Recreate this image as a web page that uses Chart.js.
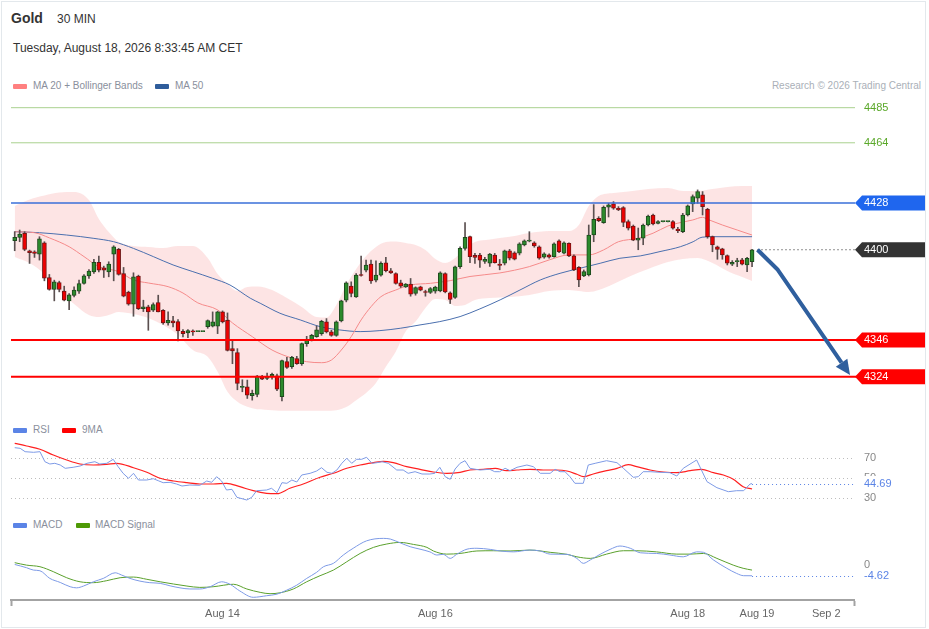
<!DOCTYPE html>
<html>
<head>
<meta charset="utf-8">
<script src="https://cdn.jsdelivr.net/npm/chart.js@4.4.1/dist/chart.umd.min.js"></script>
<style>
  html, body { margin: 0; padding: 0; background: #fff; }
  body { width: 929px; height: 629px; position: relative; overflow: hidden;
         font-family: "Liberation Sans", Arial, sans-serif; }
  #frame { position: absolute; left: 1px; top: 1px; width: 923px; height: 625px; border: 1px solid #e3e8ec; }
  .t { position: absolute; white-space: nowrap; line-height: 14px; }
  .sw { position: absolute; width: 14px; height: 5px; border-radius: 1px; }
  canvas { position: absolute; left: 0; }
</style>
</head>
<body>
<div id="frame"></div>

<!-- header -->
<div class="t" style="left:11px;top:11px;font-size:14px;font-weight:bold;color:#333">Gold</div>
<div class="t" style="left:57px;top:12px;font-size:12px;color:#333">30 MIN</div>
<div class="t" style="left:13px;top:41px;font-size:12px;color:#333">Tuesday, August 18, 2026 8:33:45 AM CET</div>

<!-- main legend -->
<div class="sw" style="left:13px;top:84px;background:#ff8080"></div>
<div class="t" style="left:33px;top:79px;font-size:10px;color:#8a8f9c">MA 20 + Bollinger Bands</div>
<div class="sw" style="left:155px;top:84px;background:#2f5d9b"></div>
<div class="t" style="left:175px;top:79px;font-size:10px;color:#8a8f9c">MA 50</div>
<div class="t" style="right:8px;top:79px;font-size:10px;color:#aab0b8">Research © 2026 Trading Central</div>

<!-- RSI legend -->
<div class="sw" style="left:13px;top:428px;background:#5b84e6"></div>
<div class="t" style="left:33px;top:423px;font-size:10px;color:#8a8f9c">RSI</div>
<div class="sw" style="left:62px;top:428px;background:#ff0000"></div>
<div class="t" style="left:82px;top:423px;font-size:10px;color:#8a8f9c">9MA</div>

<!-- MACD legend -->
<div class="sw" style="left:13px;top:523px;background:#5b84e6"></div>
<div class="t" style="left:33px;top:518px;font-size:10px;color:#8a8f9c">MACD</div>
<div class="sw" style="left:76px;top:523px;background:#4e9a06"></div>
<div class="t" style="left:95px;top:518px;font-size:10px;color:#8a8f9c">MACD Signal</div>

<canvas id="main" width="929" height="315" style="top:97px"></canvas>
<canvas id="rsi" width="929" height="74" style="top:438px"></canvas>
<canvas id="macd" width="929" height="94" style="top:535px"></canvas>

<script>
// ---------- data ----------
// 30 min candles: [open, high, low, close]
const ohlc = [
  [4405.4,4410.8,4399.4,4407.4],[4407.4,4411.8,4404.8,4409.4],[4409.8,4410.8,4399.4,4400.2],[4399.4,4399.8,4391.8,4398.2],
  [4398.8,4399.4,4395.4,4397.8],[4397.4,4407.8,4393.8,4406.6],[4404.2,4404.8,4381.4,4383.0],[4383.4,4385.2,4375.8,4376.2],
  [4376.2,4381.8,4369.4,4380.8],[4380.4,4381.2,4374.8,4376.2],[4375.2,4378.2,4369.4,4369.8],[4369.4,4373.8,4364.2,4373.0],
  [4372.6,4377.8,4371.8,4375.8],[4375.2,4381.8,4373.8,4379.8],[4379.8,4385.2,4379.4,4384.4],[4384.4,4388.2,4382.8,4387.2],
  [4386.8,4394.2,4385.8,4392.4],[4392.4,4396.2,4386.8,4387.8],[4389.2,4390.2,4383.4,4387.8],[4386.8,4392.8,4383.8,4391.4],
  [4397.4,4402.4,4381.4,4401.8],[4400.2,4400.8,4384.8,4385.2],[4385.8,4389.4,4371.8,4372.2],[4374.6,4375.2,4366.8,4367.4],
  [4367.4,4386.2,4360.2,4383.8],[4384.2,4384.8,4364.2,4364.8],[4364.8,4369.8,4363.0,4365.8],[4365.8,4366.8,4351.8,4362.8],
  [4363.8,4368.2,4363.0,4367.2],[4368.4,4372.8,4362.8,4362.8],[4363.8,4364.2,4355.4,4356.2],[4356.2,4362.8,4354.8,4357.8],
  [4357.4,4360.2,4353.8,4356.2],[4357.0,4358.2,4345.4,4351.4],[4351.2,4352.2,4347.8,4349.8],[4350.2,4352.2,4347.4,4351.6],
  [4351.4,4352.0,4348.8,4350.8],[4351.0,4351.0,4351.0,4351.0],[4351.0,4351.0,4351.0,4351.0],[4354.0,4358.0,4353.0,4357.6],
  [4354.2,4362.8,4353.8,4356.8],[4354.2,4363.2,4349.8,4362.8],[4362.8,4363.4,4356.2,4356.8],[4357.8,4362.2,4339.4,4339.8],
  [4340.8,4346.2,4331.8,4339.4],[4338.4,4340.8,4316.2,4320.0],[4317.6,4322.2,4315.0,4318.2],[4318.0,4322.0,4311.0,4313.0],
  [4312.6,4316.0,4310.0,4314.0],[4313.4,4324.8,4312.0,4324.4],[4324.2,4324.8,4322.2,4322.6],[4323.0,4326.2,4322.2,4324.0],
  [4324.2,4326.2,4322.6,4325.4],[4324.6,4325.6,4315.6,4316.6],[4312.0,4334.0,4309.6,4333.6],[4333.0,4335.6,4329.0,4329.6],
  [4330.0,4336.2,4329.0,4335.6],[4334.8,4336.2,4331.4,4331.8],[4331.8,4344.2,4330.8,4343.8],[4343.8,4348.2,4342.2,4345.8],
  [4345.8,4349.4,4345.4,4348.8],[4348.0,4354.4,4347.6,4352.0],[4349.8,4357.8,4348.8,4357.2],[4356.8,4358.8,4350.2,4350.8],
  [4350.8,4351.8,4348.2,4348.8],[4348.8,4357.4,4348.2,4356.8],[4357.4,4369.8,4356.8,4369.4],[4369.8,4380.8,4368.8,4380.2],
  [4378.2,4380.8,4371.8,4373.8],[4371.8,4385.8,4371.4,4384.8],[4384.8,4396.2,4384.2,4384.6],[4387.8,4393.8,4386.8,4390.8],
  [4391.4,4393.8,4379.8,4381.4],[4381.8,4393.4,4380.8,4384.8],[4384.8,4392.8,4384.2,4391.8],[4392.2,4395.4,4386.8,4387.4],
  [4387.4,4388.8,4385.8,4386.2],[4385.8,4386.2,4379.4,4379.8],[4380.2,4381.8,4377.4,4378.2],[4377.8,4379.8,4377.4,4379.4],
  [4379.4,4382.8,4372.2,4373.4],[4373.8,4377.8,4372.8,4377.4],[4377.8,4378.2,4375.4,4375.8],[4374.8,4375.8,4372.2,4374.4],
  [4374.4,4377.4,4373.8,4376.8],[4375.2,4378.2,4374.0,4377.6],[4375.4,4386.8,4374.8,4386.2],[4385.8,4386.2,4374.2,4374.8],
  [4374.2,4374.8,4367.8,4370.2],[4371.4,4390.2,4370.8,4389.8],[4389.8,4401.8,4388.8,4400.8],[4400.8,4416.2,4399.8,4407.4],
  [4407.8,4408.2,4392.2,4395.8],[4396.6,4397.8,4391.8,4395.4],[4396.8,4397.8,4389.4,4393.8],[4393.0,4395.4,4391.8,4394.2],
  [4392.0,4397.8,4390.0,4397.4],[4396.8,4397.8,4392.0,4392.2],[4391.4,4394.2,4388.0,4390.6],[4391.9,4399.8,4390.9,4399.4],
  [4399.4,4400.2,4393.9,4394.9],[4398.2,4398.8,4393.9,4394.3],[4397.9,4404.2,4396.9,4403.5],[4402.9,4405.9,4402.3,4405.3],
  [4405.2,4410.8,4404.7,4405.5],[4404.2,4404.8,4401.5,4402.3],[4401.8,4402.3,4394.3,4394.9],[4395.5,4398.2,4394.9,4397.5],
  [4396.9,4397.5,4394.9,4395.5],[4395.9,4404.2,4395.5,4403.5],[4405.4,4405.9,4398.2,4398.8],[4397.9,4404.8,4397.5,4404.2],
  [4403.9,4404.2,4395.9,4396.3],[4396.3,4396.9,4387.5,4387.9],[4389.5,4389.9,4377.9,4381.9],[4384.3,4387.9,4383.9,4386.9],
  [4384.9,4414.8,4384.3,4408.8],[4408.8,4427.0,4404.8,4418.2],[4418.8,4419.8,4416.8,4417.4],[4416.2,4426.2,4415.8,4425.4],
  [4425.4,4427.8,4419.6,4426.8],[4427.4,4428.8,4424.2,4424.8],[4424.8,4425.8,4423.4,4423.8],[4425.2,4425.8,4413.8,4416.4],
  [4416.8,4417.8,4411.8,4412.9],[4414.2,4414.8,4405.4,4405.8],[4405.8,4413.0,4400.0,4406.9],[4406.9,4415.4,4403.0,4414.8],
  [4414.8,4420.8,4414.2,4420.2],[4420.8,4421.4,4414.8,4415.4],[4415.8,4417.4,4415.4,4416.8],[4416.8,4417.0,4416.6,4416.8],
  [4416.8,4417.0,4416.6,4416.8],[4416.8,4417.4,4412.3,4412.9],[4412.4,4413.4,4410.2,4411.4],[4410.8,4421.8,4410.2,4420.8],
  [4420.8,4426.8,4420.2,4426.2],[4427.4,4432.8,4422.8,4431.8],[4430.8,4435.8,4427.8,4434.8],[4432.8,4434.8,4420.8,4425.8],
  [4424.2,4424.8,4406.9,4407.8],[4407.8,4408.2,4398.8,4402.9],[4401.8,4402.2,4394.3,4400.2],[4400.5,4400.9,4394.3,4396.9],
  [4396.5,4396.9,4390.9,4391.9],[4391.3,4393.5,4390.5,4392.5],[4392.9,4394.9,4389.9,4393.5],[4393.9,4394.9,4390.9,4391.3],
  [4390.9,4395.5,4386.9,4394.9],[4392.9,4400.2,4389.9,4399.9]
];

// [candle index, value]
const ma20 = [
  [0,4410.8],[4,4410.2],[7,4407.1],[11,4401.8],[14,4395.9],[17,4389.9],[21,4386.9],[24,4381.9],[27,4380.1],[31,4377.9],
  [34,4374.1],[37,4368.2],[41,4364.0],[44,4356.2],[48,4348.0],[52,4340.0],[56,4335.2],[59,4333.0],[62,4332.4],[64,4334.0],
  [66,4340.0],[68,4348.0],[70,4358.0],[72,4365.9],[74,4371.9],[77,4375.9],[80,4378.9],[84,4379.9],[88,4381.5],[92,4384.0],
  [98,4386.1],[104,4389.9],[108,4393.9],[112,4396.9],[116,4396.9],[119,4399.9],[122,4404.8],[126,4406.9],[129,4409.9],
  [132,4414.2],[134,4415.9],[137,4417.8],[139,4419.4],[140,4418.2],[143,4414.8],[146,4411.8],[149,4408.8]
];
const ma50 = [
  [0,4410.8],[5,4410.2],[10.5,4408.8],[16,4406.8],[20,4404.8],[24,4400.8],[28,4395.9],[32,4390.9],[36,4386.9],[40,4382.9],
  [43.5,4378.9],[47.6,4371.0],[49.6,4368.0],[53.6,4362.0],[57.7,4358.0],[61.7,4354.0],[65.7,4352.0],[69.8,4351.0],
  [73.8,4351.6],[77.9,4353.0],[81.9,4355.0],[85.9,4357.0],[90,4360.0],[94,4364.6],[98.1,4370.0],[102.1,4375.9],
  [106.2,4381.9],[110.2,4385.9],[114.2,4388.9],[118.3,4391.9],[122.3,4394.9],[126.4,4396.3],[130.4,4398.9],
  [134.5,4401.8],[137.1,4404.8],[138.9,4407.5],[141.1,4407.8],[149,4407.8]
];
const bandIdx = [0,3,6,9,12,15,17,19,21,24,27,30,33,36,39,41,43,45,47,49,52,55,58,61,63,65,67,69,71,73,
  75,77,79,81,83,85,87,89,91,93,96,100,104,108,112,114,116,118,121,124,128,132,135,138,141,144,147,149];
const bandUpper = [4426.2,4430.1,4432.5,4434.3,4434.6,4429.8,4418.4,4410.6,4404.7,4402.3,4401.7,4401.1,
  4402.3,4402.3,4395.1,4385.5,4379.5,4375.3,4377.7,4378.0,4375.9,4371.1,4365.8,4359.8,4359.5,4367.0,4378.9,
  4388.5,4396.3,4401.7,4404.7,4405.0,4404.1,4402.9,4399.9,4394.5,4392.1,4395.1,4400.5,4404.7,4406.2,4407.7,
  4410.0,4411.2,4411.2,4414.8,4426.2,4432.2,4434.0,4434.9,4436.4,4437.0,4435.2,4435.2,4436.4,4437.6,4438.2,4438.2];
const bandLower = [4395.7,4392.1,4385.5,4375.3,4367.6,4361.0,4359.8,4361.0,4362.8,4361.6,4359.2,4355.0,
  4349.0,4340.0,4336.0,4327.0,4315.0,4309.0,4306.0,4304.5,4304.0,4303.6,4303.6,4303.6,4303.6,4304.0,4305.9,
  4310.0,4314.3,4320.3,4330.0,4339.0,4351.0,4357.0,4365.2,4370.5,4369.9,4366.4,4367.0,4369.9,4371.1,4371.7,
  4372.9,4375.3,4375.9,4375.3,4374.7,4375.9,4379.5,4383.7,4388.5,4392.7,4394.5,4395.1,4392.1,4387.3,4383.7,4381.3];

// key levels on the right
const levelValues = [4485, 4464, 4428, 4400, 4346, 4324];
// forecast arrow path [candle index], [price]
const arrowIdx = [150.1, 154.2, 168.8];
const arrowVal = [4400, 4388, 4325];

const rsi = [
  [0,80.6],[1.1,80],[2.1,76.6],[3.8,76],[5.1,76.6],[6.1,66.6],[7.1,64.3],[8.1,65],[9.2,63.3],[10.2,60],[11.8,61],
  [13.2,62.3],[14.6,65],[16.2,66.6],[17.2,64.3],[18.6,65],[19.9,69],[20.9,61.6],[21.9,55],[23,50],[24,55],[25,48.3],
  [26.7,48.3],[28,49.6],[29,47.6],[30,45.6],[31.4,46],[32.7,44.3],[33.8,42.3],[35.4,43.3],[37.4,43],[38.8,47.3],
  [39.8,46],[40.8,51.6],[41.8,47.3],[42.8,38.3],[43.9,39],[44.9,31],[46.9,28.3],[47.9,31],[48.9,37.6],[50.9,38.3],
  [51.9,40],[53,35.6],[54,45.6],[55,45],[56,48.3],[57,46.3],[58,53.3],[59.7,55],[61,57.3],[62,60.6],[63.1,56],
  [64.1,55],[65.1,58.3],[66.1,65],[67.1,70],[68.1,65],[69.1,69],[70.1,69],[71.1,71],[72.2,65],[73.2,65.6],[74.2,66.6],
  [75.5,65],[77.2,58.3],[78.5,58.3],[79.5,55],[80.9,56.6],[82.3,54.3],[83.9,54.3],[84.9,55],[85.9,61],[87,51.6],
  [88,49],[89,59.3],[90,65],[91,67.6],[92,60],[94,58.3],[96,59],[97,56.6],[98,56.6],[99.1,60],[100.1,57.6],
  [101.5,61],[103.5,63.3],[104.8,61.6],[106.2,55],[108.2,55],[109.2,59],[110.2,56.6],[111.2,56.6],[112.2,51.6],
  [113.2,45],[114.9,45],[115.9,63.3],[117.3,65],[119.6,67.6],[121.7,65.6],[123,60],[125,51],[126,51.6],[127,56.6],
  [128.4,56.6],[130.4,56],[132.4,55.6],[133.8,52.3],[135.1,60],[137.8,68.3],[139.9,46.6],[141.9,40.6],[144.2,36.6],
  [145.9,37.6],[147.3,37.6],[148.6,44.3],[149,44.69]
];
const rsiMa = [
  [0,85],[2.4,82.3],[5.1,79],[7.8,73.3],[10.5,68.3],[13.2,64.3],[15.9,63.3],[18.6,64],[20.6,65],[24,60.6],[26.7,56],
  [29.4,50],[32.1,47.3],[34.8,45.6],[37.4,44.3],[40.1,44.3],[42.8,45],[45.5,41.6],[48.2,37.6],[50.9,35],[53,34.6],
  [55.6,40],[58.3,44.3],[61.7,51],[64.4,55],[67.1,60],[69.8,63.3],[72.5,65.6],[74.5,67],[76.5,65.6],[79.2,61.6],
  [81.9,59],[84.6,56.3],[87.3,55],[90,56],[92,58.3],[94.7,59],[97.1,60],[99.4,57.6],[101.5,58.3],[104.2,59],
  [106.8,58.3],[109.5,58.3],[111.6,57.3],[113.6,54],[114.9,51.6],[116.9,54.3],[119.6,57.6],[121.7,60],[124,63.6],
  [125.7,61.6],[128.4,58.3],[131.1,56.3],[133.8,55.6],[136.5,57.6],[138.8,59],[141.2,55.6],[143.2,53.3],[145.2,49],
  [147.2,41.6],[149,39.3]
];
const rsiLevels = [70, 50, 30];
const rsiLast = 44.69;

const macd = [
  [0,0.4],[2.4,-1.05],[3.8,-2.1],[5.1,-2.4],[7.1,-5.8],[9.2,-7.6],[11.2,-9.5],[12.5,-10],[13.9,-9.2],[15.9,-7.3],
  [17.9,-5.8],[20.3,-3.3],[21.6,-4.3],[23.3,-5.8],[25.3,-7],[27.3,-7.7],[29.4,-8],[31.4,-9.1],[33.4,-10],[35.4,-10.5],
  [37.4,-10.5],[39.5,-9.5],[41.8,-7.3],[43.5,-8.4],[45.5,-11.4],[48.2,-14.2],[50.9,-13.5],[53,-12.8],[55,-11],
  [57,-8.8],[59,-5.8],[61,-3.1],[62.4,-0.6],[64.4,0.9],[66.4,4.6],[68.4,7.6],[71.1,10.9],[74.5,12],[75.9,11.7],
  [77.9,10],[79.9,8.3],[81.9,7.2],[83.9,6],[85.3,4.6],[86.6,4.9],[88,3.1],[89.3,4.9],[91.4,7.2],[93.4,7.6],
  [96.1,7.1],[98.1,6.4],[100.8,6],[104.1,6.8],[106.2,6.4],[108.2,5],[111.6,4.9],[113.6,3.1],[114.9,0.9],[116.3,2.4],
  [118.3,4.9],[120.3,7.1],[122.3,8.6],[124.4,7.6],[126.4,5.6],[129.7,5.3],[132.4,4.6],[135.1,3.8],[137.8,6],
  [139.2,5.8],[141.2,2.4],[143.9,-1.3],[145.9,-3.6],[147.3,-4.6],[149,-4.62]
];
const macdSignal = [
  [0,1.2],[2.4,0.1],[5.1,-0.6],[7.8,-2.8],[10.5,-5.5],[13.2,-7.3],[15.9,-7.7],[18.6,-6.8],[21.3,-5.5],[24,-5.2],
  [26.7,-6.2],[29.4,-7.3],[32.1,-8.3],[34.8,-9.2],[37.4,-9.8],[40.1,-9.5],[44.2,-8.4],[46.9,-10.5],[49.6,-12],
  [51.6,-12.6],[53.6,-12.2],[56.3,-10.5],[59,-7.3],[61.7,-4.6],[64.4,-2.1],[67.1,1.6],[69.8,5.3],[72.5,8],[75.2,9.5],
  [77.9,10.2],[80.6,9.3],[83.3,8],[84.6,6.4],[87.3,5],[90,5.3],[93.4,6.4],[96.7,6.5],[100.1,6.4],[104.1,6.8],
  [108.2,5.8],[111.6,4.9],[113.6,3.8],[116.3,3.1],[119.6,5],[123,6.5],[125.7,6.5],[129.7,6],[133.8,5],[136.5,5],
  [139.2,5.3],[141.9,3.1],[145.2,0.1],[147.2,-1.3],[149,-2.1]
];
const macdTicks = [0];
const macdLast = -4.62;

// x axis labels at candle index positions
const tickIndex = [42, 85, 136, 150, 164];
const tickLabels = ['Aug 14', 'Aug 16', 'Aug 18', 'Aug 19', 'Sep 2'];

// ---------- setup ----------
Chart.defaults.font.family = '"Liberation Sans", Arial, sans-serif';
Chart.defaults.animation = false;
Chart.defaults.responsive = false;
Chart.defaults.plugins.legend.display = false;
Chart.defaults.plugins.tooltip.enabled = false;

const xMin = -0.75, xMax = 169.6;
const pts = arr => arr.map(p => ({ x: p[0], y: p[1] }));
const ax = (arr, vals) => arr.map((v, k) => ({ x: v, y: vals[k] }));
const layout = { padding: { left: 11, right: 0, top: 0, bottom: 0 } };
// stop label overhang from shrinking the plot area
const noOverhang = s => { s.paddingTop = 0; s.paddingBottom = 0; s.paddingLeft = 0; s.paddingRight = 0; };

function xAxis() {
  return { type: 'linear', min: xMin, max: xMax, bounds: 'data', offset: false, display: false };
}
function rightAxis(min, max, values, color) {
  return {
    position: 'right', min, max, bounds: 'data',
    grid: { display: false, drawTicks: false }, border: { display: false },
    afterBuildTicks: s => { s.ticks = values.map(v => ({ value: v })); },
    afterFit: s => { s.width = 75; noOverhang(s); },
    ticks: { autoSkip: false, padding: 10, font: { size: 11 }, color, z: 1, callback: v => String(v) }
  };
}

// level styles by position in levelValues
const levelKinds = ['target', 'target', 'pivot', 'last', 'support', 'support'];
const tagStyles = {
  target:  { line: '#a9d18e', width: 1, text: '#5aa829' },
  pivot:   { line: '#3a6fd8', width: 1.5, text: '#fff', box: '#1f66ee' },
  last:    { line: '#222', width: 1, dash: [1, 3], text: '#fff', box: '#333', fromArrow: true },
  support: { line: '#ff0000', width: 2, text: '#fff', box: '#ff0000', toEdge: true }
};

const levelsPlugin = {
  id: 'levels',
  afterDatasetsDraw(chart) {
    const { ctx, chartArea: a, scales: { x, y } } = chart;
    ctx.save();
    levelValues.forEach((v, k) => {
      const s = tagStyles[levelKinds[k]];
      const py = y.getPixelForValue(v);
      const x0 = s.fromArrow ? x.getPixelForValue(arrowIdx[0]) : a.left;
      const x1 = s.toEdge ? chart.width - 4 : a.right + 1;
      ctx.beginPath();
      ctx.setLineDash(s.dash || []);
      ctx.strokeStyle = s.line;
      ctx.lineWidth = s.width;
      ctx.moveTo(x0, py); ctx.lineTo(x1, py);
      ctx.stroke();
      ctx.setLineDash([]);
      if (s.box) {
        const L = a.right + 1, R = chart.width - 4, h = 7.5;
        ctx.fillStyle = s.box;
        ctx.beginPath();
        ctx.moveTo(L, py); ctx.lineTo(L + 7, py - h); ctx.lineTo(R, py - h);
        ctx.lineTo(R, py + h); ctx.lineTo(L + 7, py + h); ctx.closePath();
        ctx.fill();
      }
    });

    // forecast arrow
    const p = arrowIdx.map((v, k) => ({ x: x.getPixelForValue(v), y: y.getPixelForValue(arrowVal[k]) }));
    const tip = p[p.length - 1], prev = p[p.length - 2];
    const ang = Math.atan2(tip.y - prev.y, tip.x - prev.x);
    const hl = 15, hw = 7;
    const bx = tip.x - hl * Math.cos(ang), by = tip.y - hl * Math.sin(ang);
    ctx.strokeStyle = '#2f5f9e';
    ctx.fillStyle = '#2f5f9e';
    ctx.lineWidth = 4;
    ctx.lineJoin = 'round';
    ctx.beginPath();
    ctx.moveTo(p[0].x, p[0].y);
    for (let k = 1; k < p.length - 1; k++) ctx.lineTo(p[k].x, p[k].y);
    ctx.lineTo(bx, by);
    ctx.stroke();
    ctx.beginPath();
    ctx.moveTo(tip.x, tip.y);
    ctx.lineTo(bx + hw * Math.sin(ang), by - hw * Math.cos(ang));
    ctx.lineTo(bx - hw * Math.sin(ang), by + hw * Math.cos(ang));
    ctx.closePath();
    ctx.fill();
    ctx.restore();
  }
};

// dotted guide lines for the indicator panels
function guidePlugin(levels, last, lastX) {
  return {
    id: 'guides',
    beforeDatasetsDraw(chart) {
      const { ctx, chartArea: a, scales: { x, y } } = chart;
      ctx.save();
      ctx.lineWidth = 1;
      ctx.setLineDash([1, 3]);
      ctx.strokeStyle = '#bdbdbd';
      levels.forEach(v => {
        const py = Math.round(y.getPixelForValue(v)) + 0.5;
        ctx.beginPath(); ctx.moveTo(a.left, py); ctx.lineTo(a.right + 1, py); ctx.stroke();
      });
      ctx.strokeStyle = '#5b84e6';
      const py = Math.round(y.getPixelForValue(last)) + 0.5;
      ctx.beginPath(); ctx.moveTo(x.getPixelForValue(lastX), py); ctx.lineTo(a.right + 1, py); ctx.stroke();
      ctx.restore();
    }
  };
}

// ---------- main price chart ----------
const up = r => r[3] >= r[0];
new Chart(document.getElementById('main'), {
  type: 'bar',
  data: {
    datasets: [
      { type: 'line', data: ax(bandIdx, bandUpper), borderWidth: 0, pointRadius: 0,
        cubicInterpolationMode: 'monotone', fill: false, order: 4 },
      { type: 'line', data: ax(bandIdx, bandLower), borderWidth: 0, pointRadius: 0,
        cubicInterpolationMode: 'monotone', fill: '-1', backgroundColor: 'rgba(248,165,165,0.3)', order: 4 },
      { type: 'line', data: pts(ma20), borderColor: '#f58a8a', borderWidth: 1, pointRadius: 0,
        cubicInterpolationMode: 'monotone', order: 3 },
      { type: 'line', data: pts(ma50), borderColor: '#4a6fae', borderWidth: 1, pointRadius: 0,
        cubicInterpolationMode: 'monotone', order: 3 },
      { data: ohlc.map((r, i) => ({ x: i, y: [r[2], r[1]] })), backgroundColor: '#5b5050',
        barThickness: 1, grouped: false, order: 1 },
      { data: ohlc.map((r, i) => ({ x: i, y: [r[0], r[3]] })),
        backgroundColor: ohlc.map(r => up(r) ? '#2c8a2c' : '#ee0000'),
        borderColor: ohlc.map(r => up(r) ? '#1d4a1d' : '#701515'),
        borderWidth: 1, borderSkipped: false, barThickness: 4, minBarLength: 1, grouped: false, order: 0 }
    ]
  },
  options: {
    layout,
    scales: {
      x: xAxis(),
      y: rightAxis(4302.9, 4491.4, levelValues, c => tagStyles[levelKinds[c.index]].text)
    }
  },
  plugins: [levelsPlugin]
});

// ---------- RSI ----------
const rsiTicks = rsiLevels.concat([rsiLast]);
const rsiY = rightAxis(16.3, 90.3, rsiTicks, c => c.tick.value === rsiLast ? '#5b84e6' : '#888');
rsiY.ticks.showLabelBackdrop = c => c.tick.value === rsiLast;
rsiY.ticks.backdropColor = '#fff';
rsiY.ticks.backdropPadding = { top: 1, bottom: 1, left: 0, right: 2 };
new Chart(document.getElementById('rsi'), {
  type: 'line',
  data: {
    datasets: [
      { data: pts(rsi), borderColor: '#7d9ae6', borderWidth: 1, pointRadius: 0, tension: 0 },
      { data: pts(rsiMa), borderColor: '#ff2020', borderWidth: 1.2, pointRadius: 0, cubicInterpolationMode: 'monotone' }
    ]
  },
  options: {
    layout,
    scales: { x: xAxis(), y: rsiY }
  },
  plugins: [guidePlugin(rsiLevels, rsiLast, rsi[rsi.length - 1][0])]
});

// ---------- MACD + time axis ----------
const macdX = xAxis();
Object.assign(macdX, {
  display: true,
  afterBuildTicks: s => { s.ticks = [xMin].concat(tickIndex, [xMax]).map(v => ({ value: v })); },
  afterFit: s => { s.height = 29; noOverhang(s); },
  grid: {
    display: true, drawOnChartArea: false, drawTicks: true, tickLength: 6, tickWidth: 2,
    tickColor: c => (c.tick && (c.tick.value === xMin || c.tick.value === xMax)) ? '#a3a3a3' : 'rgba(0,0,0,0)'
  },
  border: { display: true, color: '#a3a3a3', width: 2 },
  ticks: {
    autoSkip: false, maxRotation: 0, padding: 1, color: '#666', font: { size: 11 },
    callback: v => { const k = tickIndex.indexOf(v); return k >= 0 ? tickLabels[k] : ''; }
  }
});
new Chart(document.getElementById('macd'), {
  type: 'line',
  data: {
    datasets: [
      { data: pts(macd), borderColor: '#7d9ae6', borderWidth: 1, pointRadius: 0, cubicInterpolationMode: 'monotone' },
      { data: pts(macdSignal), borderColor: '#5aa02c', borderWidth: 1, pointRadius: 0, cubicInterpolationMode: 'monotone' }
    ]
  },
  options: {
    layout,
    scales: {
      x: macdX,
      y: rightAxis(-15.4, 13.5, macdTicks.concat([macdLast]), c => c.tick.value === macdLast ? '#5b84e6' : '#888')
    }
  },
  plugins: [guidePlugin([], macdLast, macd[macd.length - 1][0])]
});
</script>
</body>
</html>
